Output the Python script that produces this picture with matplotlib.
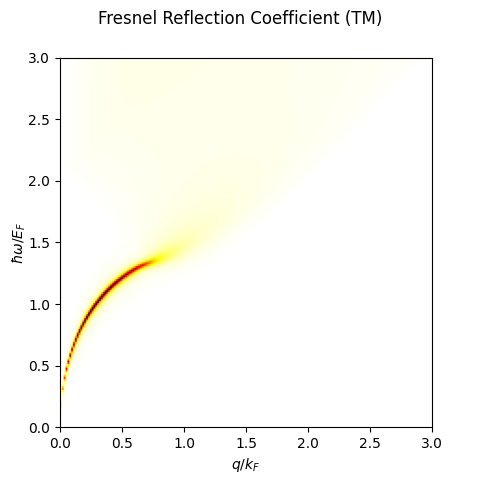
import numpy as np
import matplotlib
matplotlib.use("Agg")
import matplotlib.pyplot as plt

# axis ranges, in units of k_F (momentum) and E_F (energy)
q_range = [0.0, 3.0]
w_range = [0.0, 3.0]
n_cells = 200

# doped graphene in RPA
alpha = 2.2    # effective fine structure constant e^2/(kappa*hbar*v)
eta = 0.02     # damping, in E_F
g = 4          # spin x valley degeneracy

q = np.linspace(q_range[0], q_range[1], n_cells + 1)
q = 0.5 * (q[1:] + q[:-1])
w = np.linspace(w_range[0], w_range[1], n_cells + 1)
w = 0.5 * (w[1:] + w[:-1])
z = w + 1j * eta

# %%
# Fermi disk sampled on a polar grid
nr, nt = 300, 512
r = (np.arange(nr) + 0.5) / nr
t = (np.arange(nt) + 0.5) * 2 * np.pi / nt
R, T = np.meshgrid(r, t)
R = R.ravel()
cosT = np.cos(T).ravel()
pref = g / (4 * np.pi**2) * R * (1.0 / nr) * (2 * np.pi / nt)

# transition energies are collected in bins (linear deposit)
db = 0.004
nb = int(5.5 / db) + 2
bins = np.arange(nb) * db
K = 1 / (z[None, :] - bins[:, None]) - 1 / (z[None, :] + bins[:, None])

H = np.zeros((len(q), nb))
for i, qi in enumerate(q):
    kq = np.sqrt(R**2 + qi**2 + 2 * R * qi * cosT)
    cphi = (R + qi * cosT) / kq
    d_intra = kq - R
    w_intra = pref * (1 + cphi) / 2
    d_inter = kq + R
    w_inter = -pref * (1 - cphi) / 2
    d = np.concatenate([np.abs(d_intra), d_inter])
    wt = np.concatenate([np.sign(d_intra) * w_intra, w_inter])
    x = d / db
    i0 = np.floor(x).astype(int)
    fr = x - i0
    H[i] = (np.bincount(i0, wt * (1 - fr), minlength=nb)[:nb]
            + np.bincount(i0 + 1, wt * fr, minlength=nb)[:nb])

dchi = H @ K
Q = q[:, None]
chi0 = -Q**2 / (4 * np.sqrt(Q**2 - z[None, :]**2))
chi = chi0 + dchi

# reflection coefficient of the sheet (nonretarded TM)
eps = 1 - 2 * np.pi * alpha / Q * chi
r_tm = 1 - 1 / eps
Z = r_tm.imag.T

# %%
fig, ax = plt.subplots(figsize=(4.8, 4.8), dpi=100)
ax.imshow(Z, origin="lower", extent=[q_range[0], q_range[1], w_range[0], w_range[1]],
          cmap="hot_r", vmin=0, vmax=Z.max(), aspect="auto")
ax.set_xlim(q_range)
ax.set_ylim(w_range)
ax.set_xlabel(r"$q/k_F$")
ax.set_ylabel(r"$\hbar\omega/E_F$", labelpad=0)
fig.suptitle("Fresnel Reflection Coefficient (TM)")
fig.savefig("out.png")
